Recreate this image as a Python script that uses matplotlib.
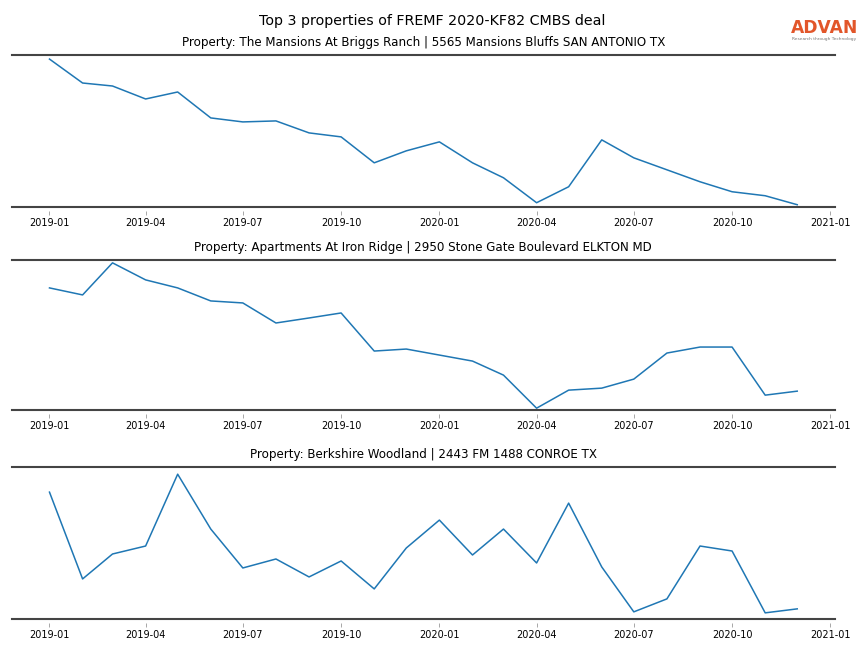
import matplotlib
matplotlib.use("Agg")
import matplotlib.pyplot as plt
import matplotlib.dates as mdates
from matplotlib.lines import Line2D
import pandas as pd

months = pd.date_range("2019-01-01", periods=24, freq="MS")

titles = [
    "Property: The Mansions At Briggs Ranch | 5565 Mansions Bluffs SAN ANTONIO TX",
    "Property: Apartments At Iron Ridge | 2950 Stone Gate Boulevard ELKTON MD",
    "Property: Berkshire Woodland | 2443 FM 1488 CONROE TX",
]

briggs_ranch = [148, 124, 121, 108, 115, 89, 85, 86, 74, 70, 44, 56,
                65, 44, 29, 4, 20, 67, 49, 37, 25, 15, 11, 2]
iron_ridge = [122, 115, 147, 130, 122, 109, 107, 87, 92, 97, 59, 61,
              55, 49, 35, 2, 20, 22, 31, 57, 63, 63, 15, 19]
berkshire = [127, 40, 65, 73, 145, 90, 51, 60, 42, 58, 30, 71,
             99, 64, 90, 56, 116, 52, 7, 20, 73, 68, 6, 10]

series = [briggs_ranch, iron_ridge, berkshire]
ytops = [152, 150, 152]

fig = plt.figure(figsize=(8.64, 6.48), dpi=100)
# axes boxes (left, bottom, width, height) in figure fractions
boxes = [(0.014, 0.681, 0.952, 0.234),
         (0.014, 0.367, 0.952, 0.232),
         (0.014, 0.045, 0.952, 0.234)]

for box, vals, t, top in zip(boxes, series, titles, ytops):
    ax = fig.add_axes(box)
    ax.plot(months, vals, color="#1f77b4", lw=1.1)
    ax.set_ylim(0, top)
    ax.set_title(t, fontsize=8.6, pad=6.5)
    ax.set_yticks([])
    ax.spines["left"].set_visible(False)
    ax.spines["right"].set_visible(False)
    ax.spines["top"].set_color("#444444")
    ax.spines["top"].set_linewidth(1.5)
    # invisible bottom spine pushed out so the ticks sit below the line
    ax.spines["bottom"].set_position(("outward", 3))
    ax.spines["bottom"].set_visible(False)
    ax.add_line(Line2D([0, 1], [0, 0], transform=ax.transAxes, color="#444444",
                       lw=1.5, clip_on=False))
    ax.xaxis.set_major_locator(mdates.MonthLocator(bymonth=[1, 4, 7, 10]))
    ax.xaxis.set_major_formatter(mdates.DateFormatter("%Y-%m"))
    ax.tick_params(axis="x", labelsize=7, length=3, width=0.6, color="#999999", pad=2)

fig.suptitle("Top 3 properties of FREMF 2020-KF82 CMBS deal", fontsize=10.3, y=0.978)

# logo
fig.text(0.954, 0.957, "ADVAN", color="#e2562a", fontsize=12.3, fontweight="semibold",
         ha="center", va="center")
fig.text(0.954, 0.940, "Research through Technology", color="#777777", fontsize=3.2,
         ha="center", va="center")

fig.savefig("out.png", dpi=100)
